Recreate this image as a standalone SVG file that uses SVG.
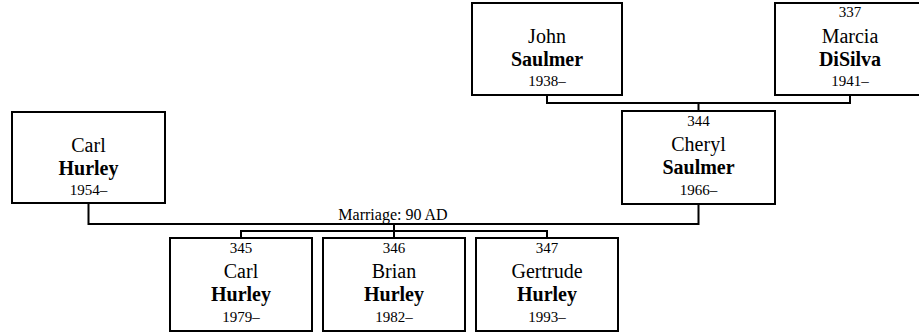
<svg xmlns="http://www.w3.org/2000/svg" width="919" height="333" viewBox="0 0 919 333">
<style>
.box{fill:#fff;stroke:#000;stroke-width:2}
.ln{fill:none;stroke:#000;stroke-width:2}
.t{font-family:'Liberation Serif','Times New Roman',serif;fill:#000;text-anchor:middle}
.num{font-size:15px}
.nm{font-size:20px}
.sn{font-size:20px;font-weight:bold}
.yr{font-size:15px}
.lbl{font-size:16px}
</style>
<rect width="919" height="333" fill="#fff"/>
<g id="connectors">
<path class="ln" d="M547 95V103M850 95V103M546 103H851M698.5 103V111"/>
<path class="ln" d="M88.5 203V224M698.5 204V224M87.5 224H699.5"/>
<path class="ln" d="M394 224V231M240 231H548M241 231V238M394 231V238M547 231V238"/>
<text class="t lbl" x="393" y="220">Marriage: 90 AD</text>
</g>
<g id="john">
<rect class="box" x="472" y="3" width="150" height="92"/>
<text class="t nm" x="547" y="43">John</text>
<text class="t sn" x="547" y="66">Saulmer</text>
<text class="t yr" x="547" y="86">1938–</text>
</g>
<g id="marcia">
<rect class="box" x="775" y="3" width="150" height="92"/>
<text class="t num" x="850" y="17">337</text>
<text class="t nm" x="850" y="43">Marcia</text>
<text class="t sn" x="850" y="66">DiSilva</text>
<text class="t yr" x="850" y="86">1941–</text>
</g>
<g id="carl-parent">
<rect class="box" x="12" y="112" width="153" height="91"/>
<text class="t nm" x="88.5" y="152">Carl</text>
<text class="t sn" x="88.5" y="175">Hurley</text>
<text class="t yr" x="88.5" y="195">1954–</text>
</g>
<g id="cheryl">
<rect class="box" x="622" y="111" width="153" height="93"/>
<text class="t num" x="698.5" y="126">344</text>
<text class="t nm" x="698.5" y="151">Cheryl</text>
<text class="t sn" x="698.5" y="174">Saulmer</text>
<text class="t yr" x="698.5" y="195">1966–</text>
</g>
<g id="carl-child">
<rect class="box" x="170" y="238" width="142" height="93"/>
<text class="t num" x="241" y="253">345</text>
<text class="t nm" x="241" y="278">Carl</text>
<text class="t sn" x="241" y="301">Hurley</text>
<text class="t yr" x="241" y="322">1979–</text>
</g>
<g id="brian">
<rect class="box" x="323" y="238" width="142" height="93"/>
<text class="t num" x="394" y="253">346</text>
<text class="t nm" x="394" y="278">Brian</text>
<text class="t sn" x="394" y="301">Hurley</text>
<text class="t yr" x="394" y="322">1982–</text>
</g>
<g id="gertrude">
<rect class="box" x="476" y="238" width="142" height="93"/>
<text class="t num" x="547" y="253">347</text>
<text class="t nm" x="547" y="278">Gertrude</text>
<text class="t sn" x="547" y="301">Hurley</text>
<text class="t yr" x="547" y="322">1993–</text>
</g>
</svg>
